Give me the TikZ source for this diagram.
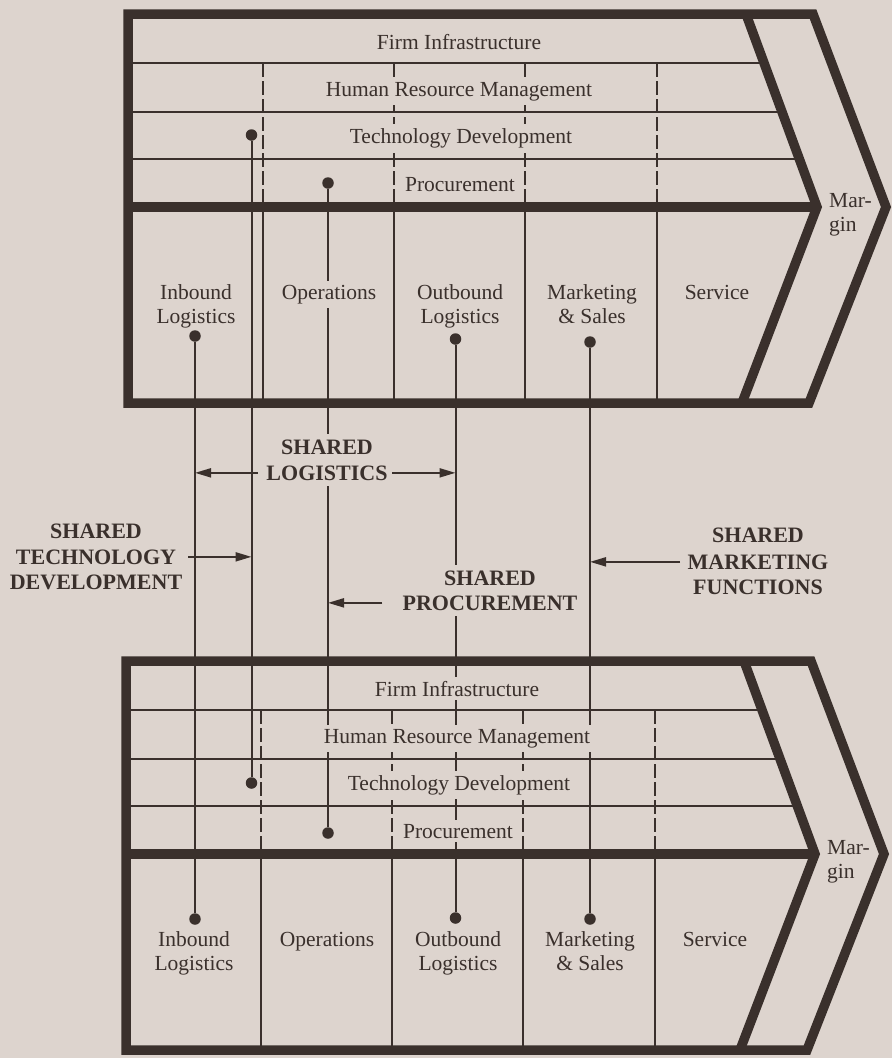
\documentclass[tikz,border=0pt]{standalone}
\usepackage{fontspec}
\setmainfont{Liberation Serif}
\usetikzlibrary{arrows.meta}
\definecolor{paper}{HTML}{DDD4CE}
\definecolor{ink}{HTML}{3A302C}
\pgfdeclarelayer{paperlayer}
\pgfdeclarelayer{wires}
\pgfsetlayers{paperlayer,wires,main}

% two-line labels; the first baseline is the node's base
\newcommand\twoline[2]{\begin{tabular}[t]{@{}c@{}}#1\\#2\end{tabular}}
\newcommand\twolineleft[2]{\begin{tabular}[t]{@{}l@{}}#1\\#2\end{tabular}}

\tikzset{
  thickframe/.style={draw=ink, line width=9.5pt, line join=miter},
  rule/.style={draw=ink, line width=1.8pt},
  dashrule/.style={draw=ink, line width=1.8pt, dash pattern=on 14pt off 4pt},
  wire/.style={draw=ink, line width=2pt},
  joint/.style={circle, fill=ink, inner sep=0pt, minimum size=11.5pt},
  lbl/.style={anchor=base, text=ink, fill=paper, inner xsep=2pt, inner ysep=4pt,
              font=\fontsize{21.5pt}{24pt}\selectfont},
  caps/.style={anchor=base, text=ink, fill=paper, inner xsep=2pt, inner ysep=3.5pt,
               text height=17pt, text depth=2.7pt,
               font=\bfseries\fontsize{22pt}{26pt}\selectfont},
  sharearrow/.style={draw=ink, line width=2pt, -{Triangle[length=16pt,width=9pt]}},
}

% one value chain: support rows, primary activities, margin chevron
\newcommand\valuechain[2]{%
  \begin{scope}[shift={#2}]
    \begin{pgfonlayer}{wires}
      \draw[rule] (128,63)  -- (765,63);
      \draw[rule] (128,112) -- (782,112);
      \draw[rule] (128,159) -- (800,159);
      \foreach \x in {263,394,525,657}{
        \draw[dashrule] (\x,63) -- (\x,207);
        \draw[rule] (\x,207) -- (\x,403);
      }
    \end{pgfonlayer}
    \node[lbl] (#1-fi)  at (459,49)  {Firm Infrastructure};
    \node[lbl] (#1-hrm) at (459,96)  {Human Resource Management};
    \node[lbl] (#1-td)  at (461,143) {Technology Development};
    \node[lbl] (#1-pr)  at (460,191) {Procurement};
    \node[lbl] (#1-inb) at (196,299) {\twoline{Inbound}{Logistics}};
    \node[lbl] (#1-ops) at (329,299) {Operations};
    \node[lbl] (#1-out) at (460,299) {\twoline{Outbound}{Logistics}};
    \node[lbl] (#1-mkt) at (592,299) {\twoline{Marketing}{\& Sales}};
    \node[lbl] (#1-srv) at (717,299) {Service};
    \node[lbl, anchor=base west, fill=none] (#1-mar) at (827,207) {\twolineleft{Mar-}{gin}};
    \draw[thickframe] (128,14) -- (813,14) -- (886,207) -- (809,403) -- (128,403) -- cycle;
    \draw[thickframe] (746,14) -- (817,207) -- (742,403);
    \draw[thickframe] (128,207) -- (817,207);
  \end{scope}}

\begin{document}
\begin{tikzpicture}[x=1pt, y=-1pt]
  \begin{pgfonlayer}{paperlayer}
    \fill[paper] (0,0) rectangle (892,1058);
  \end{pgfonlayer}
  \useasboundingbox (0,0) rectangle (892,1058);

  % the two business units
  \valuechain{t}{(0,0)}
  \valuechain{b}{(-2,647)}

  % linked activities in each chain
  \node[joint] (t-dinb)  at (195,336) {};
  \node[joint] (t-dtech) at (251.5,135) {};
  \node[joint] (t-dproc) at (328,183) {};
  \node[joint] (t-dout)  at (455.5,339) {};
  \node[joint] (t-dmkt)  at (590,342) {};
  \node[joint] (b-dinb)  at (195,919) {};
  \node[joint] (b-dtech) at (251.5,783) {};
  \node[joint] (b-dproc) at (328,833) {};
  \node[joint] (b-dout)  at (455.5,918) {};
  \node[joint] (b-dmkt)  at (590,919) {};

  \begin{pgfonlayer}{wires}
    \draw[wire] (t-dinb)  -- (b-dinb);
    \draw[wire] (t-dtech) -- (b-dtech);
    \draw[wire] (t-dproc) -- (b-dproc);
    \draw[wire] (t-dout)  -- (b-dout);
    \draw[wire] (t-dmkt)  -- (b-dmkt);
  \end{pgfonlayer}

  % kinds of sharing
  \node[caps] (logA)  at (327,454) {SHARED};
  \node[caps] (logB)  at (327,480) {LOGISTICS};
  \node[caps] (techA) at (96,538)  {SHARED};
  \node[caps] (techB) at (96,564)  {TECHNOLOGY};
  \node[caps] (techC) at (96,589)  {DEVELOPMENT};
  \node[caps] (procA) at (490,585) {SHARED};
  \node[caps] (procB) at (490,610) {PROCUREMENT};
  \node[caps] (mktA)  at (758,542) {SHARED};
  \node[caps] (mktB)  at (758,569) {MARKETING};
  \node[caps] (mktC)  at (758,594) {FUNCTIONS};

  \draw[sharearrow, shorten <=6.5pt] (logB.west) -- (logB.west -| t-dinb);
  \draw[sharearrow, shorten <=2.5pt] (logB.east) -- (logB.east -| t-dout);
  \draw[sharearrow, shorten <=10pt]  (techB.east) -- (techB.east -| t-dtech);
  \draw[sharearrow, shorten <=18pt]  (procB.west) -- (procB.west -| t-dproc);
  \draw[sharearrow, shorten <=5.5pt] (mktB.west) -- (mktB.west -| t-dmkt);
\end{tikzpicture}
\end{document}
